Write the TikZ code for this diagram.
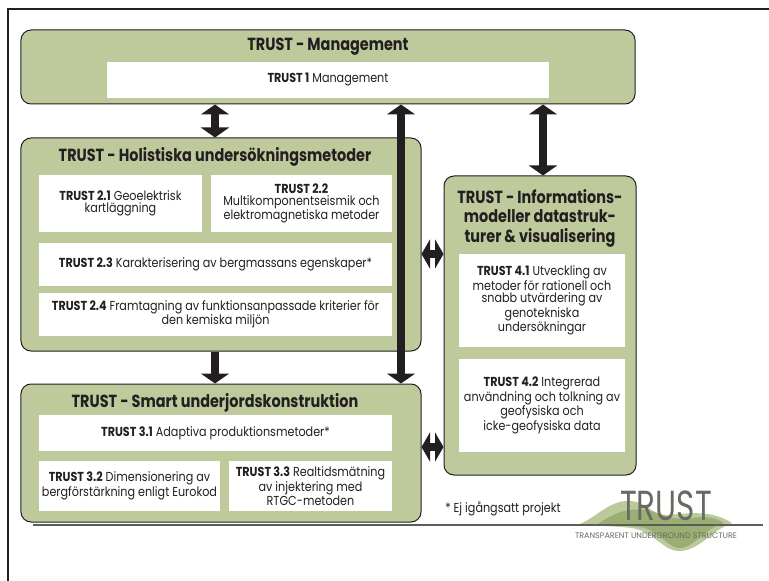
\documentclass[tikz,border=0pt]{standalone}
\usepackage{fontspec}
\setmainfont{Poppins}[FakeStretch=0.86]
\newfontfamily\titlefont{Poppins}[FakeStretch=0.825]
\newfontfamily\logofont{Poppins}[FakeStretch=0.74]
\newfontfamily\subfont{Poppins}
\usetikzlibrary{arrows.meta,calc}
\definecolor{boxgreen}{RGB}{190,202,156}
\definecolor{ink}{RGB}{35,31,32}
\definecolor{logogray}{RGB}{105,106,98}
\definecolor{rulegray}{RGB}{90,93,88}
\definecolor{wave1}{RGB}{170,188,130}
\definecolor{wave2}{RGB}{130,155,85}
\begin{document}
\begin{tikzpicture}[x=1bp,y=-1bp,
  group/.style={draw=ink, line width=1bp, fill=boxgreen, rounded corners=10bp, inner sep=0pt},
  wbox/.style={fill=white, inner sep=0pt, align=center, text=ink,
    font=\fontsize{13bp}{12.5bp}\selectfont},
  gtitle/.style={inner sep=0pt, align=center, text=ink,
    font=\titlefont\bfseries\fontsize{17.5bp}{19.5bp}\selectfont},
  dbl/.style={draw=ink, line width=8.5bp,
    {Triangle[width=28bp,length=10bp]}-{Triangle[width=28bp,length=10bp]}},
  sgl/.style={draw=ink, line width=8.5bp, -{Triangle[width=28bp,length=10bp]}},
  hdbl/.style={draw=ink, line width=7.5bp,
    {Triangle[width=29bp,length=8.5bp]}-{Triangle[width=29bp,length=8.5bp]}}
]
\useasboundingbox (0,0) rectangle (769,581);
\fill[white] (0,0) rectangle (769,581);
% outer frame
\draw[ink, line width=1.5bp] (8,581) -- (8,9) -- (769,9);

% groups
\node[group, minimum width=614bp, minimum height=74bp] (mgmt) at (328,67) {};
\node[group, minimum width=400bp, minimum height=213bp] (hol) at (221,244.5) {};
\node[group, minimum width=400bp, minimum height=138bp] (smart) at (221,453) {};
\node[group, minimum width=192bp, minimum height=299bp] (info) at (540,325.5) {};

% titles
\node[gtitle] (tmgmt) at (328,46.5) {TRUST - Management};
\node[gtitle] (thol) at (215,156.5) {TRUST - Holistiska undersökningsmetoder};
\node[gtitle] (tsmart) at (215,402.5) {TRUST - Smart underjordskonstruktion};
\node[gtitle] (tinfo) at (540,218) {TRUST - Informations-\\modeller datastruk-\\turer \& visualisering};

% white boxes
\node[wbox, minimum width=442bp, minimum height=36bp] (t1) at (328,80) {\textbf{TRUST 1} Management};
\node[wbox, minimum width=163bp, minimum height=57bp] (t21) at (120.5,203.5) {\textbf{TRUST 2.1} Geoelektrisk\\kartläggning};
\node[wbox, minimum width=181bp, minimum height=57bp] (t22) at (301.5,203.5) {\textbf{TRUST 2.2}\\Multikomponentseismik och\\elektromagnetiska metoder};
\node[wbox, minimum width=353bp, minimum height=43bp] (t23) at (215.5,264.5) {\textbf{TRUST 2.3} Karakterisering av bergmassans egenskaper*};
\node[wbox, minimum width=353bp, minimum height=43bp] (t24) at (215.5,314.5) {\textbf{TRUST 2.4} Framtagning av funktionsanpassade kriterier för\\den kemiska miljön};
\node[wbox, minimum width=353bp, minimum height=36bp] (t31) at (215.5,433) {\textbf{TRUST 3.1} Adaptiva produktionsmetoder*};
\node[wbox, minimum width=181bp, minimum height=50bp] (t32) at (129.5,486) {\textbf{TRUST 3.2} Dimensionering av\\bergförstärkning enligt Eurokod};
\node[wbox, minimum width=163bp, minimum height=50bp] (t33) at (310.5,486) {\textbf{TRUST 3.3} Realtidsmätning\\av injektering med\\RTGC-metoden};
\node[wbox, minimum width=166bp, minimum height=93bp] (t41) at (542,300.5) {\textbf{TRUST 4.1} Utveckling av\\metoder för rationell och\\snabb utvärdering av\\genotekniska\\undersökningar};
\node[wbox, minimum width=166bp, minimum height=93bp] (t42) at (542,405.5) {\textbf{TRUST 4.2} Integrerad\\användning och tolkning av\\geofysiska och\\icke-geofysiska data};

% arrow guide coordinates
\coordinate (xa) at (215,0);
\coordinate (xb) at (401,0);
\coordinate (xc) at (543,0);
\coordinate (ya) at (0,254);
\coordinate (yb) at (0,447);

% connectors
\draw[dbl] (mgmt.south -| xa) -- (hol.north -| xa);
\draw[dbl] (mgmt.south -| xb) -- (smart.north -| xb);
\draw[dbl] (mgmt.south -| xc) -- (info.north -| xc);
\draw[sgl] (hol.south -| xa) -- (smart.north -| xa);
\draw[hdbl] (hol.east |- ya) -- (info.west |- ya);
\draw[hdbl] (smart.east |- yb) -- (info.west |- yb);

% footnote
\node[inner sep=0pt, text=ink, font=\fontsize{13bp}{13bp}\selectfont] (fn) at (503,509) {* Ej igångsatt projekt};

% logo waves
\fill[wave1, opacity=0.8] (580,524) .. controls (598,516) and (610,500) .. (630,501)
  .. controls (648,502) and (652,516) .. (668,515) .. controls (690,513) and (712,510) .. (732,523)
  .. controls (712,530) and (700,550) .. (680,551) .. controls (664,552) and (655,532) .. (632,528)
  .. controls (615,526) and (596,526) .. (580,524) -- cycle;
\fill[wave2, opacity=0.55] (598,524) .. controls (615,512) and (628,508) .. (645,510)
  .. controls (660,512) and (670,521) .. (690,518) .. controls (705,516) and (715,517) .. (724,523)
  .. controls (705,528) and (695,546) .. (682,548) .. controls (668,550) and (660,530) .. (640,527)
  .. controls (625,525) and (612,525) .. (598,524) -- cycle;

% bottom rule
\draw[rulegray, line width=2bp] (33,525) -- (763,525);

% logo text
\node[inner sep=0pt, text=logogray, anchor=base, text depth=0pt,
  font=\logofont\fontsize{42bp}{42bp}\selectfont] (logo) at (666,520) {TRUST};
\node[inner sep=0pt, text=logogray, anchor=base, text height=5.5bp, text depth=0pt,
  font=\subfont\fontsize{8bp}{8bp}\selectfont] (logosub) at (656,538) {TRANSPARENT UNDERGROUND STRUCTURE};
\end{tikzpicture}
\end{document}
